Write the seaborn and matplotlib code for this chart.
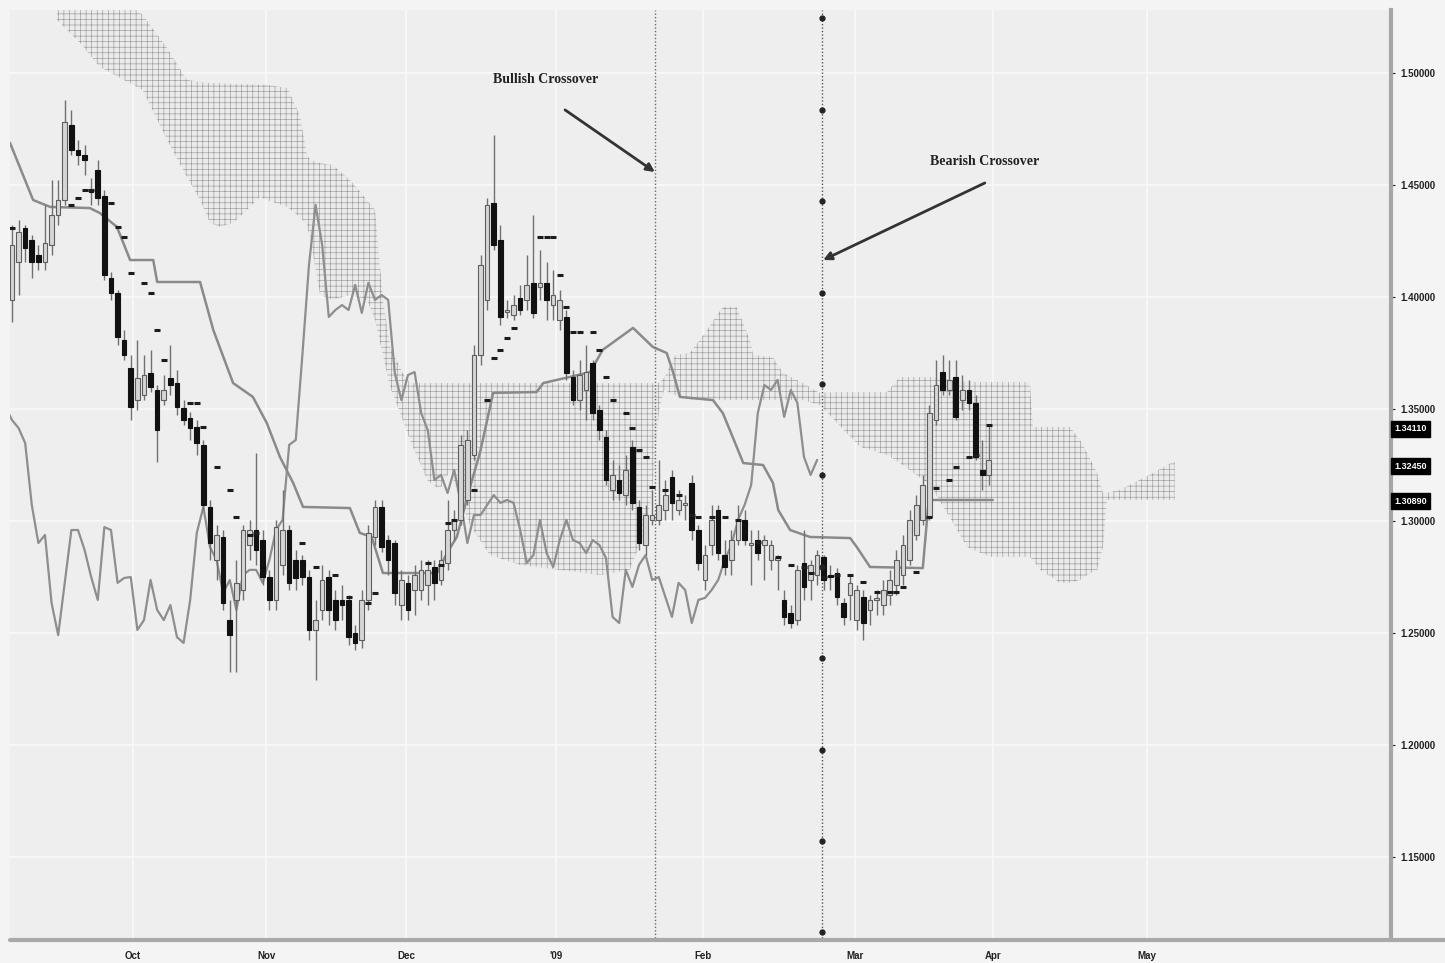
import numpy as np
import matplotlib
matplotlib.use("Agg")
import matplotlib.pyplot as plt
import matplotlib.transforms as mtransforms
from matplotlib.lines import Line2D
import seaborn as sns

# ---------------- data ----------------
month_labels = ["Oct", "Nov", "Dec", "'09", "Feb", "Mar", "Apr", "May"]
month_pos = [18.3, 38.5, 59.7, 82.4, 104.7, 127.7, 148.6, 172.0]
price_ticks = [1.15, 1.20, 1.25, 1.30, 1.35, 1.40, 1.45, 1.50]

opens = [1.3987, 1.4156, 1.4308, 1.4255, 1.4188, 1.4156, 1.4232, 1.4366, 1.4433, 1.4768,
         1.4656, 1.4634, 1.4478, 1.4567, 1.4451, 1.4085, 1.4018, 1.3808, 1.3683, 1.3540,
         1.3563, 1.3661, 1.3585, 1.3540, 1.3639, 1.3616, 1.3505, 1.3460, 1.3420, 1.3340,
         1.3063, 1.2826, 1.2929, 1.2558, 1.2648, 1.2692, 1.2893, 1.2960, 1.2915, 1.2750,
         1.2648, 1.2804, 1.2960, 1.2826, 1.2826, 1.2750, 1.2514, 1.2603, 1.2750, 1.2648,
         1.2648, 1.2648, 1.2500, 1.2469, 1.2648, 1.2929, 1.3063, 1.2915, 1.2902, 1.2625,
         1.2724, 1.2692, 1.2692, 1.2715, 1.2795, 1.2737, 1.2813, 1.2960, 1.3005, 1.3094,
         1.3295, 1.3741, 1.3987, 1.4420, 1.4255, 1.3933, 1.3920, 1.3996, 1.3987, 1.4063,
         1.4045, 1.4063, 1.3964, 1.3898, 1.3911, 1.3643, 1.3540, 1.3585, 1.3706, 1.3496,
         1.3375, 1.3139, 1.3183, 1.3116, 1.3331, 1.3063, 1.2893, 1.3005, 1.3005, 1.3049,
         1.3197, 1.3049, 1.3072, 1.3170, 1.2960, 1.2737, 1.2893, 1.3049, 1.2848, 1.2826,
         1.2915, 1.3005, 1.2893, 1.2915, 1.2893, 1.2826, 1.2826, 1.2648, 1.2590, 1.2558,
         1.2813, 1.2737, 1.2759, 1.2840, 1.2759, 1.2768, 1.2634, 1.2670, 1.2558, 1.2661,
         1.2603, 1.2648, 1.2625, 1.2670, 1.2715, 1.2759, 1.2826, 1.2938, 1.3005, 1.3018,
         1.3451, 1.3665, 1.3585, 1.3643, 1.3540, 1.3585, 1.3527, 1.3228, 1.3206]

closes = [1.4232, 1.4290, 1.4219, 1.4156, 1.4156, 1.4241, 1.4366, 1.4433, 1.4781, 1.4656,
          1.4634, 1.4612, 1.4469, 1.4442, 1.4098, 1.4018, 1.3822, 1.3741, 1.3509, 1.3639,
          1.3652, 1.3598, 1.3406, 1.3585, 1.3607, 1.3509, 1.3451, 1.3415, 1.3348, 1.3072,
          1.2902, 1.2938, 1.2634, 1.2491, 1.2724, 1.2960, 1.2960, 1.2871, 1.2750, 1.2648,
          1.2973, 1.2960, 1.2724, 1.2746, 1.2750, 1.2514, 1.2558, 1.2737, 1.2603, 1.2558,
          1.2625, 1.2482, 1.2456, 1.2648, 1.2947, 1.3063, 1.2884, 1.2826, 1.2679, 1.2737,
          1.2603, 1.2759, 1.2782, 1.2782, 1.2724, 1.2826, 1.2960, 1.3005, 1.3340, 1.3362,
          1.3741, 1.4143, 1.4411, 1.4232, 1.3911, 1.3942, 1.3964, 1.3942, 1.4054, 1.3929,
          1.4063, 1.3987, 1.4009, 1.3987, 1.3661, 1.3540, 1.3652, 1.3665, 1.3482, 1.3406,
          1.3183, 1.3206, 1.3125, 1.3228, 1.3081, 1.2902, 1.3027, 1.3027, 1.3072, 1.3116,
          1.3081, 1.3094, 1.3081, 1.2960, 1.2813, 1.2848, 1.3005, 1.2857, 1.2795, 1.2915,
          1.3005, 1.2915, 1.2902, 1.2857, 1.2915, 1.2893, 1.2835, 1.2572, 1.2545, 1.2782,
          1.2706, 1.2804, 1.2848, 1.2737, 1.2750, 1.2661, 1.2572, 1.2724, 1.2692, 1.2545,
          1.2648, 1.2657, 1.2692, 1.2737, 1.2826, 1.2893, 1.3005, 1.3072, 1.3161, 1.3482,
          1.3607, 1.3585, 1.3630, 1.3465, 1.3585, 1.3527, 1.3286, 1.3206, 1.3273]

highs = [1.4322, 1.4344, 1.4322, 1.4277, 1.4232, 1.4411, 1.4523, 1.4523, 1.4880, 1.4835,
         1.4701, 1.4679, 1.4531, 1.4612, 1.4478, 1.4112, 1.4031, 1.3853, 1.3741, 1.3808,
         1.3741, 1.3764, 1.3607, 1.3652, 1.3786, 1.3674, 1.3540, 1.3487, 1.3451, 1.3362,
         1.3094, 1.2982, 1.2960, 1.2648, 1.2826, 1.2982, 1.3005, 1.3304, 1.2960, 1.2782,
         1.3005, 1.3139, 1.2982, 1.2871, 1.2848, 1.2782, 1.2648, 1.2804, 1.2782, 1.2692,
         1.2715, 1.2670, 1.2536, 1.2692, 1.2982, 1.3094, 1.3094, 1.2938, 1.2915, 1.2782,
         1.2759, 1.2804, 1.2826, 1.2826, 1.2826, 1.2871, 1.3094, 1.3049, 1.3384, 1.3406,
         1.3786, 1.4188, 1.4442, 1.4723, 1.4322, 1.3987, 1.4009, 1.4054, 1.4188, 1.4366,
         1.4210, 1.4156, 1.4121, 1.4031, 1.3942, 1.3674, 1.3719, 1.3786, 1.3719, 1.3518,
         1.3406, 1.3273, 1.3250, 1.3295, 1.3362, 1.3094, 1.3072, 1.3139, 1.3273, 1.3183,
         1.3228, 1.3139, 1.3116, 1.3206, 1.2982, 1.2893, 1.3072, 1.3072, 1.2915, 1.2960,
         1.3072, 1.3049, 1.2960, 1.2960, 1.2938, 1.2915, 1.2848, 1.2692, 1.2625, 1.2804,
         1.2960, 1.2826, 1.2871, 1.2848, 1.2804, 1.2790, 1.2657, 1.2759, 1.2715, 1.2692,
         1.2670, 1.2692, 1.2737, 1.2782, 1.2871, 1.2938, 1.3049, 1.3116, 1.3206, 1.3518,
         1.3719, 1.3741, 1.3719, 1.3719, 1.3652, 1.3630, 1.3563, 1.3362, 1.3429]

lows = [1.3889, 1.4009, 1.4156, 1.4085, 1.4121, 1.4121, 1.4188, 1.4322, 1.4411, 1.4634,
        1.4589, 1.4545, 1.4411, 1.4411, 1.4076, 1.3987, 1.3786, 1.3719, 1.3451, 1.3496,
        1.3540, 1.3576, 1.3264, 1.3518, 1.3563, 1.3473, 1.3429, 1.3362, 1.3295, 1.3049,
        1.2826, 1.2737, 1.2603, 1.2326, 1.2326, 1.2648, 1.2826, 1.2804, 1.2715, 1.2603,
        1.2603, 1.2759, 1.2692, 1.2692, 1.2715, 1.2469, 1.2290, 1.2558, 1.2536, 1.2514,
        1.2558, 1.2447, 1.2424, 1.2433, 1.2603, 1.2893, 1.2862, 1.2759, 1.2625, 1.2558,
        1.2558, 1.2581, 1.2648, 1.2625, 1.2648, 1.2715, 1.2782, 1.2915, 1.2982, 1.3072,
        1.3273, 1.3697, 1.3942, 1.4210, 1.3875, 1.3906, 1.3898, 1.3920, 1.3942, 1.3906,
        1.3987, 1.3898, 1.3898, 1.3853, 1.3630, 1.3518, 1.3496, 1.3451, 1.3451, 1.3362,
        1.3161, 1.3094, 1.3094, 1.3072, 1.3049, 1.2871, 1.2848, 1.2982, 1.2982, 1.3005,
        1.3005, 1.3027, 1.3005, 1.2915, 1.2782, 1.2692, 1.2848, 1.2826, 1.2759, 1.2759,
        1.2893, 1.2893, 1.2715, 1.2826, 1.2737, 1.2782, 1.2692, 1.2536, 1.2523, 1.2536,
        1.2648, 1.2648, 1.2715, 1.2692, 1.2692, 1.2625, 1.2536, 1.2558, 1.2514, 1.2469,
        1.2536, 1.2581, 1.2581, 1.2625, 1.2670, 1.2715, 1.2804, 1.2915, 1.2982, 1.3005,
        1.3429, 1.3563, 1.3563, 1.3451, 1.3496, 1.3496, 1.3273, 1.3139, 1.3161]

tenkan_x = [0, 9, 10, 11, 12, 15, 16, 17, 18, 20, 21, 22, 23, 27, 28, 29, 31, 33, 34, 36,
            37, 44, 46, 49, 51, 54, 55, 63, 65, 66, 67, 70, 72, 73, 74, 75, 76, 80, 81, 82,
            83, 84, 85, 86, 88, 89, 90, 91, 93, 94, 95, 96, 97, 99, 101, 103, 104, 106, 108, 110,
            113, 116, 118, 120, 121, 123, 125, 127, 129, 131, 133, 134, 135, 137, 139, 140, 142, 143, 145, 146,
            148]
tenkan = [1.4308, 1.4411, 1.4442, 1.4478, 1.4478, 1.4420, 1.4313, 1.4268, 1.4107, 1.4063,
          1.4018, 1.3853, 1.3719, 1.3527, 1.3527, 1.3420, 1.3241, 1.3139, 1.3018, 1.2938,
          1.2947, 1.2902, 1.2795, 1.2759, 1.2661, 1.2634, 1.2679, 1.2813, 1.2804, 1.2991,
          1.3005, 1.3139, 1.3540, 1.3728, 1.3764, 1.3817, 1.3862, 1.4268, 1.4268, 1.4268,
          1.4098, 1.3956, 1.3844, 1.3844, 1.3844, 1.3764, 1.3643, 1.3540, 1.3482, 1.3415,
          1.3317, 1.3286, 1.3152, 1.3139, 1.3116, 1.3027, 1.3018, 1.3018, 1.3018, 1.3005,
          1.2906, 1.2840, 1.2804, 1.2795, 1.2768, 1.2750, 1.2759, 1.2759, 1.2728, 1.2683,
          1.2683, 1.2683, 1.2706, 1.2773, 1.3018, 1.3148, 1.3183, 1.3241, 1.3286, 1.3295,
          1.3429]

kijun_x = [-0.3, 3.2, 5.8, 11.8, 13.3, 15.9, 17.9, 21.4, 22.0, 28.5,
           30.5, 33.5, 36.5, 38.6, 40.6, 42.6, 44.1, 51.2, 52.7, 54.5,
           56.2, 64.4, 65.9, 67.4, 69.4, 70.9, 72.0, 72.9, 79.5, 80.5,
           84.5, 87.6, 89.5, 94.1, 97.1, 99.2, 100.2, 101.2, 106.2, 107.7,
           109.2, 110.8, 113.8, 115.3, 116.1, 117.9, 120.9, 127.0, 128.0, 130.0,
           138.0, 138.9, 148.6]
kijun = [1.4688, 1.4433, 1.4402, 1.4397, 1.4375, 1.4313, 1.4165, 1.4165, 1.4067, 1.4067,
         1.3853, 1.3616, 1.3554, 1.3438, 1.3286, 1.3170, 1.3063, 1.3058, 1.2947, 1.2929,
         1.2768, 1.2768, 1.2857, 1.2929, 1.3152, 1.3304, 1.3451, 1.3572, 1.3576, 1.3616,
         1.3643, 1.3665, 1.3764, 1.3862, 1.3777, 1.3750, 1.3661, 1.3554, 1.3540, 1.3482,
         1.3375, 1.3259, 1.3250, 1.3170, 1.3049, 1.2960, 1.2929, 1.2924, 1.2884, 1.2795,
         1.2790, 1.3094, 1.3094]

cloud_x = [6.8, 10.3, 13.3, 19.8, 23.5, 26.5, 28.5, 30.0, 31.5, 33.5,
           34.5, 37.6, 38.6, 41.7, 43.6, 44.7, 45.2, 46.7, 48.6, 51.2,
           53.8, 55.0, 56.2, 57.3, 59.2, 60.3, 62.9, 64.8, 66.4, 67.9,
           69.4, 72.4, 77.0, 83.0, 89.1, 93.6, 95.9, 97.0, 98.0, 98.8,
           100.5, 102.7, 105.3, 107.7, 109.8, 111.8, 112.3, 115.3, 116.8, 119.8,
           122.4, 125.0, 128.5, 132.6, 134.5, 139.1, 142.6, 144.7, 148.2, 154.2,
           154.7, 155.8, 158.8, 160.3, 161.8, 162.9, 164.4, 165.3, 165.9, 167.9,
           172.9, 175.9, 176.2]
cloud_hi = [1.540, 1.540, 1.540, 1.5259, 1.5112, 1.4969, 1.4960, 1.4955, 1.4955, 1.4951,
            1.4951, 1.4947, 1.4947, 1.4933, 1.4813, 1.4634, 1.4612, 1.4598, 1.4589, 1.4523,
            1.4433, 1.4389, 1.3987, 1.3777, 1.3661, 1.3616, 1.3616, 1.3616, 1.3616, 1.3616,
            1.3616, 1.3616, 1.3616, 1.3616, 1.3616, 1.3616, 1.3616, 1.3616, 1.3616, 1.3639,
            1.3741, 1.3750, 1.3853, 1.3956, 1.3956, 1.3808, 1.3741, 1.3732, 1.3661, 1.3616,
            1.3572, 1.3576, 1.3576, 1.3576, 1.3643, 1.3643, 1.3630, 1.3621, 1.3621, 1.3621,
            1.3420, 1.3420, 1.3420, 1.3420, 1.3362, 1.3304, 1.3215, 1.3126, 1.3126, 1.3139,
            1.3215, 1.3264, 1.3264]
cloud_lo = [1.5237, 1.5134, 1.5027, 1.4924, 1.4701, 1.4536, 1.4433, 1.4331, 1.4313, 1.4331,
            1.4357, 1.4447, 1.4433, 1.4402, 1.4357, 1.4322, 1.4255, 1.4009, 1.3987, 1.4009,
            1.3987, 1.3898, 1.3741, 1.3598, 1.3451, 1.3362, 1.3183, 1.3139, 1.3228, 1.3094,
            1.2982, 1.2848, 1.2804, 1.2782, 1.2759, 1.2782, 1.2956, 1.3121, 1.3487, 1.3585,
            1.3563, 1.3540, 1.3540, 1.3540, 1.3540, 1.3540, 1.3540, 1.3540, 1.3540, 1.3540,
            1.3518, 1.3438, 1.3331, 1.3295, 1.3259, 1.3161, 1.2991, 1.2884, 1.2840, 1.2840,
            1.2826, 1.2782, 1.2724, 1.2724, 1.2737, 1.2759, 1.2782, 1.2884, 1.3094, 1.3094,
            1.3094, 1.3094, 1.3094]

chikou_shift = 26
crossover_bars = [97.4, 122.7]           # bullish, bearish
last_labels = [1.3411, 1.3245, 1.3089]

# ---------------- style ----------------
sns.set_theme(style="darkgrid", rc={
    "axes.facecolor": "#eeeeee",
    "figure.facecolor": "#f4f4f4",
    "grid.color": "#f8f8f8",
    "grid.linewidth": 1.3,
    "hatch.linewidth": 0.45,
})
plt.rcParams["font.family"] = ["Liberation Sans", "DejaVu Sans"]

fig = plt.figure(figsize=(14.45, 9.63), dpi=100)
ax = fig.add_axes([10 / 1445, 25 / 963, 1381 / 1445, 928 / 963])
ax.set_xlim(-0.3, 208.94)
ax.set_ylim(1.1139, 1.5281)

# cloud (kumo) with dotted-grid texture
ax.fill_between(cloud_x, cloud_lo, cloud_hi, facecolor="#ebebeb",
                edgecolor="#9a9a9a", hatch="+++", linewidth=0, zorder=1)

# chikou span (close shifted back)
idx = np.arange(len(closes))
sns.lineplot(x=idx - chikou_shift, y=closes, ax=ax, color="#8e8e8e", lw=1.6,
             estimator=None, sort=False, zorder=2)
# kijun sen
sns.lineplot(x=kijun_x, y=kijun, ax=ax, color="#8a8a8a", lw=1.8,
             estimator=None, sort=False, zorder=2)

# candles
o = np.array(opens); c = np.array(closes); h = np.array(highs); l = np.array(lows)
up = c >= o
ax.vlines(idx, l, h, color="#707070", lw=1.0, zorder=3)
blo = np.minimum(o, c)
bh = np.maximum(np.abs(c - o), 0.0007)
ax.bar(idx[up], bh[up], bottom=blo[up], width=0.7, color="#d6d6d6",
       edgecolor="#5e5e5e", linewidth=0.8, zorder=4)
ax.bar(idx[~up], bh[~up], bottom=blo[~up], width=0.7, color="#111111",
       edgecolor="#111111", linewidth=0.8, zorder=4)

# tenkan sen as dashes
ax.plot(tenkan_x, tenkan, ls="none", marker="_", ms=5, mew=2.2,
        color="#1c1c1c", zorder=5)

# crossover verticals
ax.axvline(crossover_bars[0], color="#6a6a6a", ls=(0, (1, 1.5)), lw=1.0, zorder=2)
ax.axvline(crossover_bars[1], color="#555555", ls=(0, (1, 1.5)), lw=1.0, zorder=2)
trans = mtransforms.blended_transform_factory(ax.transData, ax.transAxes)
dot_y = np.linspace(0.006, 0.991, 11)
ax.plot([crossover_bars[1]] * len(dot_y), dot_y, ls="none", marker="o", ms=3.5,
        color="#222222", transform=trans, zorder=6, clip_on=False)

# annotations
serif = ["Liberation Serif", "DejaVu Serif"]
ax.text(80.8, 1.4969, "Bullish Crossover", ha="center", va="center",
        fontsize=10, fontweight="bold", family=serif, color="#222222")
ax.annotate("", xy=(crossover_bars[0], 1.4558), xytext=(83.8, 1.4835),
            arrowprops=dict(arrowstyle="-|>", lw=2.0, color="#333333",
                            mutation_scale=12, shrinkA=0, shrinkB=0))
ax.text(147.4, 1.4603, "Bearish Crossover", ha="center", va="center",
        fontsize=10, fontweight="bold", family=serif, color="#222222")
ax.annotate("", xy=(crossover_bars[1] + 0.2, 1.4165), xytext=(147.4, 1.4509),
            arrowprops=dict(arrowstyle="-|>", lw=2.0, color="#333333",
                            mutation_scale=12, shrinkA=0, shrinkB=0))

# axes, ticks
ax.set_xticks(month_pos)
ax.set_xticklabels(month_labels)
ax.set_yticks(price_ticks)
ax.set_yticklabels([f"{v:.5f}" for v in price_ticks])
ax.yaxis.tick_right()
ax.tick_params(axis="y", labelsize=7, pad=4, length=3, colors="#222222", width=0.8)
ax.tick_params(axis="x", labelsize=7, pad=6, length=3, colors="#222222", width=0.8)
for t in ax.get_xticklabels() + ax.get_yticklabels():
    t.set_fontweight("bold")
ax.set_xlabel("")
ax.set_ylabel("")
for s in ["left", "top", "bottom"]:
    ax.spines[s].set_visible(False)
ax.spines["right"].set_visible(True)
ax.spines["right"].set_color("#a6a6a6")
ax.spines["right"].set_linewidth(3)

# last-value boxes on the price scale
ytrans = mtransforms.blended_transform_factory(ax.transAxes, ax.transData)
for v in last_labels:
    ax.text(1.0025, v, f"{v:.5f}", transform=ytrans, ha="left", va="center",
            fontsize=6.5, fontweight="bold", color="white", clip_on=False,
            bbox=dict(boxstyle="square,pad=0.35", fc="black", ec="black"))

# bottom rule across the whole width
fig.add_artist(Line2D([10 / 1445, 1.0], [23 / 963, 23 / 963], color="#a9a9a9",
                      lw=3, transform=fig.transFigure))

fig.savefig("out.png", dpi=100)
